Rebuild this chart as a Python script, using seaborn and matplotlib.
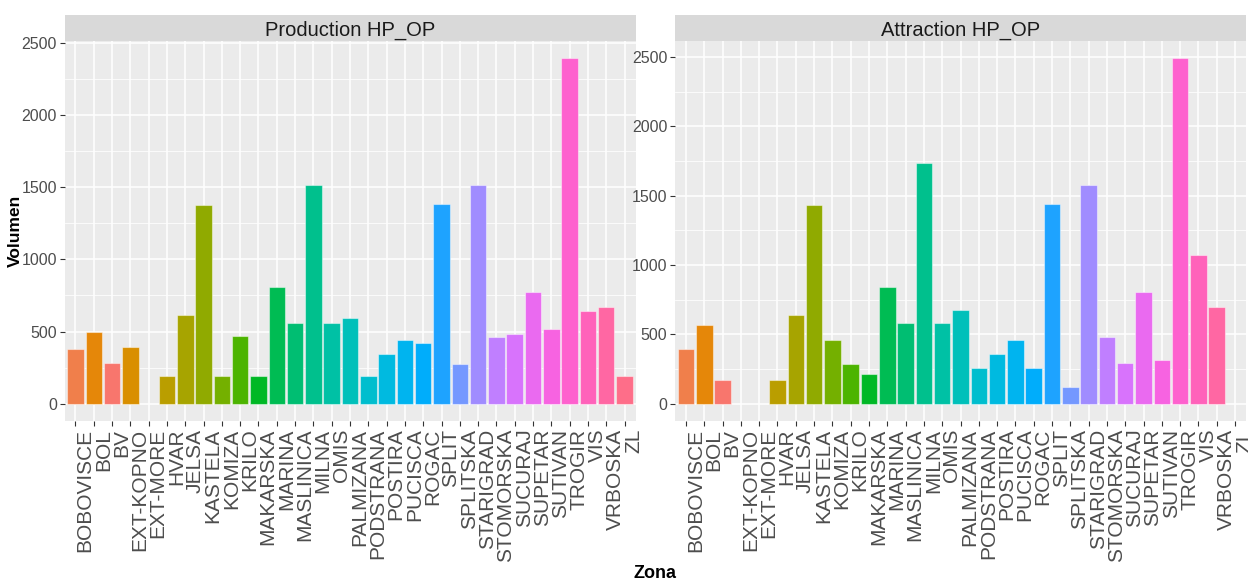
import numpy as np
import pandas as pd
import matplotlib
matplotlib.use("Agg")
import matplotlib.pyplot as plt
from matplotlib.patches import Rectangle
from matplotlib.ticker import MultipleLocator
import seaborn as sns

# ---- data -------------------------------------------------------------
zones = ["BOBOVISCE", "BOL", "BV", "EXT-KOPNO", "EXT-MORE", "HVAR", "JELSA",
         "KASTELA", "KOMIZA", "KRILO", "MAKARSKA", "MARINA", "MASLINICA",
         "MILNA", "OMIS", "PALMIZANA", "PODSTRANA", "POSTIRA", "PUCISCA",
         "ROGAC", "SPLIT", "SPLITSKA", "STARIGRAD", "STOMORSKA", "SUCURAJ",
         "SUPETAR", "SUTIVAN", "TROGIR", "VIS", "VRBOSKA", "ZL"]

production = [378, 494, 284, 390, np.nan, 195, 611,
              1379, 195, 466, 195, 807, 556,
              1513, 556, 591, 195, 346, 438,
              418, 1384, 277, 1513, 464, 482,
              775, 517, 2392, 641, 667, 195]

attraction = [394, 565, 169, np.nan, np.nan, 173, 637,
              1437, 459, 284, 212, 841, 579,
              1733, 579, 675, 255, 360, 457,
              255, 1442, 123, 1576, 483, 293,
              807, 315, 2492, 1072, 697, np.nan]

panel_titles = ["Production HP_OP", "Attraction HP_OP"]
y_ticks = [0, 500, 1000, 1500, 2000, 2500]


# ---- ggplot-like hue palette (HCL, c=100, l=65) -----------------------
def hcl_to_hex(h, c=100.0, l=65.0):
    hr = np.deg2rad(h)
    U, V = c * np.cos(hr), c * np.sin(hr)
    Xn, Yn, Zn = 95.047, 100.0, 108.883
    t = Xn + 15 * Yn + 3 * Zn
    un, vn = 4 * Xn / t, 9 * Yn / t
    Y = Yn * ((l + 16) / 116) ** 3
    u = U / (13 * l) + un
    v = V / (13 * l) + vn
    X = 9.0 * Y * u / (4 * v)
    Z = -X / 3 - 5 * Y + 3 * Y / v
    X, Y, Z = X / 100, Y / 100, Z / 100
    r = 3.240479 * X - 1.537150 * Y - 0.498535 * Z
    g = -0.969256 * X + 1.875992 * Y + 0.041556 * Z
    b = 0.055648 * X - 0.204043 * Y + 1.057311 * Z

    def gam(x):
        x = x * 12.92 if x <= 0.0031308 else 1.055 * x ** (1 / 2.4) - 0.055
        return min(max(x, 0.0), 1.0)

    return "#{:02X}{:02X}{:02X}".format(*[int(round(gam(k) * 255)) for k in (r, g, b)])


def hue_pal(n):
    return [hcl_to_hex(15 + 360 * i / n) for i in range(n)]


pal = hue_pal(len(zones))
# BV holds the first level of the fill scale, the others follow in order
pal = pal[1:3] + pal[0:1] + pal[3:]
colors = dict(zip(zones, pal))

# ---- figure -----------------------------------------------------------
plt.rcParams["font.family"] = ["Liberation Sans", "DejaVu Sans"]

W, H = 1248, 581
fig = plt.figure(figsize=(W / 100, H / 100), dpi=100)
fig.patch.set_facecolor("white")

panel_top, panel_bot = 41, 421
strip_h = 26
lefts = [64.5, 675]
width_px = 571

for k, (title, vals) in enumerate(zip(panel_titles, [production, attraction])):
    ax = fig.add_axes([lefts[k] / W, 1 - panel_bot / H, width_px / W,
                       (panel_bot - panel_top) / H])
    df = pd.DataFrame({"Zona": zones, "Volumen": vals})
    sns.barplot(data=df, x="Zona", y="Volumen", hue="Zona", order=zones,
                hue_order=zones, palette=colors, legend=False, ax=ax,
                width=0.9, saturation=1, errorbar=None,
                edgecolor=(1, 1, 1, 0.45), linewidth=0.8, zorder=3)

    vmax = np.nanmax(vals)
    ax.set_ylim(-0.05 * vmax, 1.05 * vmax)
    ax.set_xlim(-0.6, len(zones) - 0.4)

    ax.set_facecolor("#EBEBEB")
    for s in ax.spines.values():
        s.set_visible(False)
    ax.set_yticks(y_ticks)
    ax.yaxis.set_minor_locator(MultipleLocator(250))
    ax.grid(which="major", color="white", linewidth=1.1, zorder=0)
    ax.grid(which="minor", axis="y", color="white", linewidth=0.55, zorder=0)
    ax.set_axisbelow(True)

    ax.tick_params(axis="both", which="major", length=3.5, width=0.8,
                   color="#333333", labelcolor="#4D4D4D", pad=2)
    ax.tick_params(axis="y", which="major", labelsize=11.5)
    ax.tick_params(axis="y", which="minor", length=0)
    ax.set_xticks(range(len(zones)))
    ax.set_xticklabels(zones, rotation=90, ha="left", va="top",
                       fontsize=15, rotation_mode="default")
    for lab in ax.get_xticklabels():
        lab.set_x(lab.get_position()[0] - 0.42)

    ax.set_xlabel("")
    ax.set_ylabel("")

    # facet strip
    sh = strip_h / (panel_bot - panel_top)
    ax.add_patch(Rectangle((0, 1), 1, sh, transform=ax.transAxes,
                           facecolor="#D9D9D9", edgecolor="none",
                           clip_on=False, zorder=5))
    ax.text(0.5, 1 + sh / 2, title, transform=ax.transAxes, ha="center",
            va="center_baseline", fontsize=14.5, color="#1A1A1A", zorder=6)

fig.text(15 / W, 1 - 231 / H, "Volumen", rotation=90, ha="center",
         va="center", fontsize=12.5, fontweight="bold", color="black")
fig.text(655 / W, 1 - 574 / H, "Zona", ha="center", va="center",
         fontsize=13, fontweight="bold", color="black")

fig.savefig("out.png", dpi=100, facecolor="white")
